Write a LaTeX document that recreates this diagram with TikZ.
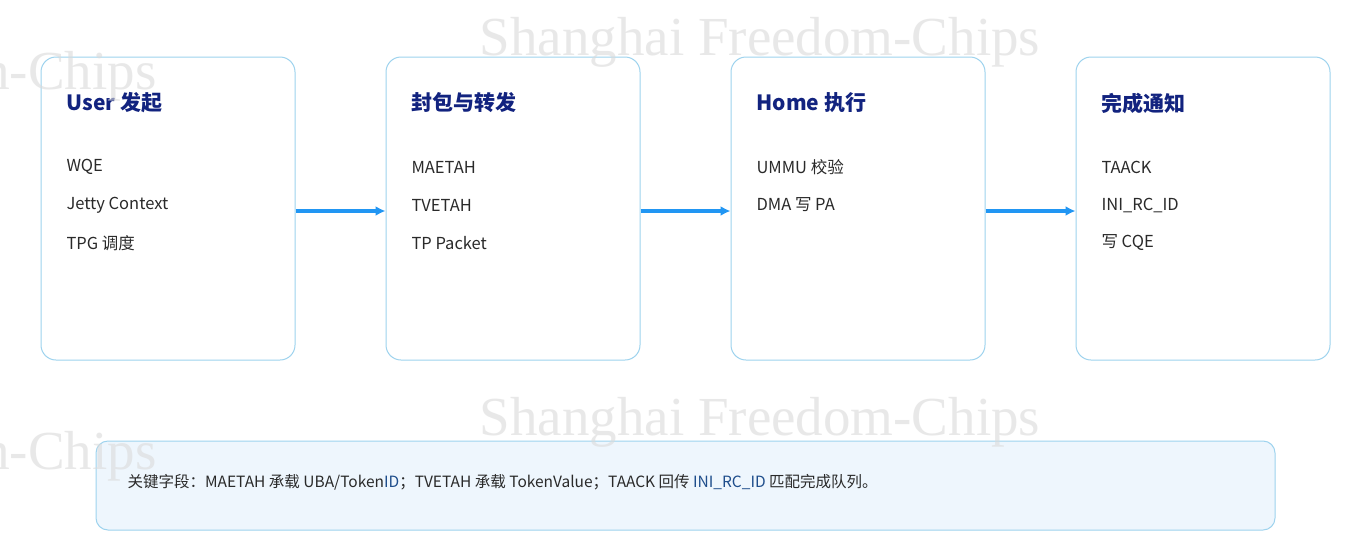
\documentclass[tikz,border=0pt]{standalone}
\usepackage{fontspec}
\usetikzlibrary{arrows.meta}
\setmainfont{Noto Sans CJK SC}
\newfontfamily\wmfont{Liberation Serif}
\definecolor{edge}{HTML}{9ED3EE}
\definecolor{arrowc}{HTML}{2196F3}
\definecolor{navy}{HTML}{12237F}
\definecolor{txt}{HTML}{2A2A2A}
\definecolor{note}{HTML}{EEF6FD}
\definecolor{wm}{HTML}{DADADA}
\definecolor{hl}{HTML}{1F4E8C}
\begin{document}
\begin{tikzpicture}[x=1pt,y=-1pt,
  stage/.style={draw=edge,line width=1pt,fill=white,rounded corners=15pt,minimum width=254pt,minimum height=303pt,inner sep=0pt},
  title/.style={anchor=west,text=navy,font=\fontsize{21}{23}\selectfont\bfseries},
  item/.style={anchor=west,text=txt,font=\fontsize{16.5}{19}\selectfont},
  flow/.style={draw=arrowc,line width=3.5pt,-{Latex[length=10pt,width=10pt]}},
  wmk/.style={text=wm,opacity=0.6,font=\wmfont\fontsize{55}{58}\selectfont}]
\useasboundingbox (0,0) rectangle (1351,552);
\clip (0,0) rectangle (1351,552);
\fill[white] (0,0) rectangle (1351,552);
\foreach \n/\x/\t/\a/\b/\c in {
  s1/168/{User 发起}/WQE/{Jetty Context}/{TPG 调度},
  s2/513/{封包与转发}/MAETAH/TVETAH/{TP Packet},
  s3/858/{Home 执行}/{UMMU 校验}/{DMA 写 PA}/{},
  s4/1203/{完成通知}/TAACK/{INI\_RC\_ID}/{写 CQE}}{
  \node[stage] (\n) at (\x,208.5) {};
  \node[title] (\n t) at (\x-127+22,103) {\t};
  \node[item] (\n a) at (\x-127+22,167) {\a};
  \node[item] (\n b) at (\x-127+22,205) {\b};
  \node[item] (\n c) at (\x-127+22,243) {\c};
}
\draw[flow] (s1.east |- 0,211) -- (s2.west |- 0,211);
\draw[flow] (s2.east |- 0,211) -- (s3.west |- 0,211);
\draw[flow] (s3.east |- 0,211) -- (s4.west |- 0,211);
\node[draw=edge,line width=1pt,fill=note,rounded corners=12pt,minimum width=1179pt,minimum height=89pt] (n) at (685.5,485.5) {};
\node[anchor=west,text=txt,font=\fontsize{15.5}{18}\selectfont] (nt) at (124,482) {关键字段：MAETAH 承载 UBA/Token\textcolor{hl}{ID}；TVETAH 承载 TokenValue；TAACK 回传 \textcolor{hl}{INI\_RC\_ID} 匹配完成队列。};
\node[wmk] (w1) at (760,42) {Shanghai Freedom-Chips};
\node[wmk] (w2) at (760,422) {Shanghai Freedom-Chips};
\node[wmk,anchor=east] (w3) at (160,76) {Shanghai Freedom-Chips};
\node[wmk,anchor=east] (w4) at (160,456) {Shanghai Freedom-Chips};
\end{tikzpicture}
\end{document}
